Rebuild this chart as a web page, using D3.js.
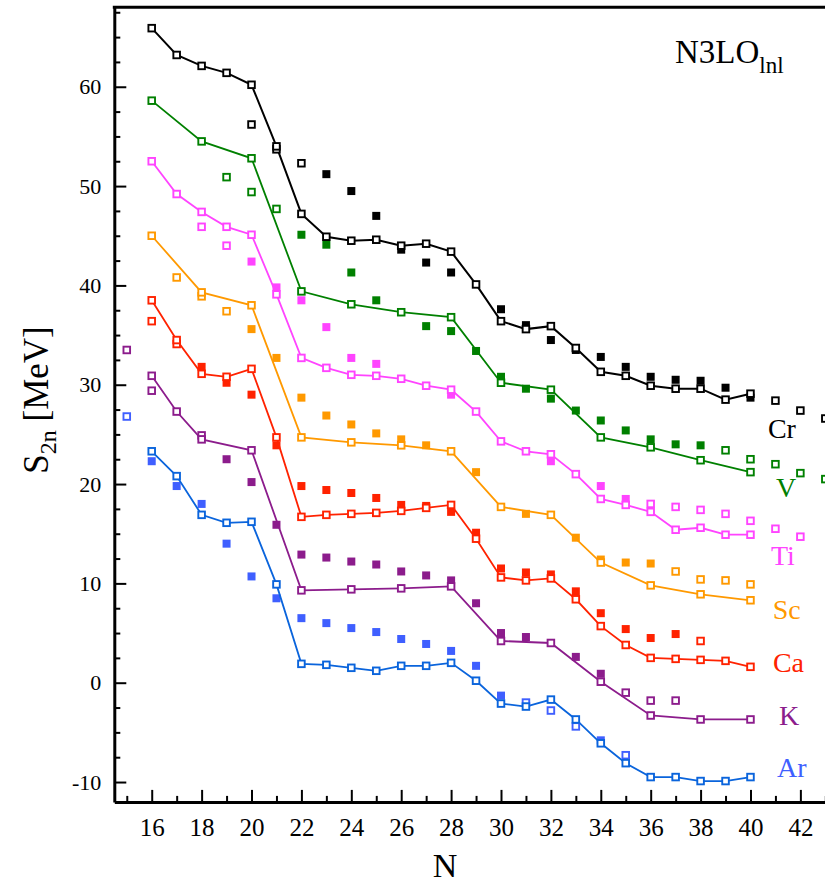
<!DOCTYPE html>
<html>
<head>
<meta charset="utf-8">
<script src="https://cdn.jsdelivr.net/npm/d3@7"></script>
<style>
  body { margin: 0; background: #fff; }
  svg { display: block; }
  text { font-family: "Liberation Serif", "Times New Roman", serif; }
</style>
</head>
<body>
<svg id="chart" width="825" height="884"></svg>
<script>
// S2n values [N, MeV]
// "line" = calculation joined by a line, "other" = extra open squares, "exp" = filled squares
const crLine = [[16,65.9],[17,63.2],[18,62.1],[19,61.4],[20,60.2],[21,54.0],[22,47.2],[23,44.9],[24,44.5],[25,44.6],[26,44.0],[27,44.2],[28,43.4],[29,40.1],[30,36.4],[31,35.6],[32,35.9],[33,33.7],[34,31.3],[35,30.9],[36,29.9],[37,29.6],[38,29.6],[39,28.5],[40,29.1]]
const crOther = [[20,56.2],[21,53.7],[22,52.3],[41,28.4],[42,27.4],[43,26.6]]
const crExp = [[23,51.2],[24,49.5],[25,47.0],[26,43.6],[27,42.3],[28,41.3],[30,37.6],[31,36.0],[32,34.5],[33,33.5],[34,32.8],[35,31.8],[36,30.8],[37,30.5],[38,30.4],[39,29.7],[40,28.7]]

const vLine = [[16,58.6],[18,54.5],[20,52.8],[22,39.4],[24,38.1],[26,37.3],[28,36.8],[30,30.2],[32,29.5],[34,24.7],[36,23.7],[38,22.4],[40,21.2]]
const vOther = [[19,50.9],[20,49.4],[21,47.7],[39,23.4],[40,22.5],[41,22.0],[42,21.1],[43,20.5]]
const vExp = [[22,45.1],[23,44.1],[24,41.3],[25,38.5],[27,35.9],[28,35.4],[29,33.4],[30,30.8],[31,29.6],[32,28.6],[33,27.4],[34,26.4],[35,25.4],[36,24.5],[37,24.0],[38,23.9]]

const tiLine = [[16,52.5],[17,49.2],[18,47.4],[19,45.9],[20,45.1],[21,39.1],[22,32.7],[23,31.7],[24,31.0],[25,30.9],[26,30.6],[27,29.9],[28,29.5],[29,27.3],[30,24.3],[31,23.3],[32,23.0],[33,21.0],[34,18.5],[35,17.9],[36,17.2],[37,15.4],[38,15.6],[39,14.9],[40,14.9]]
const tiOther = [[18,45.9],[19,44.0],[36,18.0],[37,17.7],[38,17.4],[39,17.0],[40,16.3],[41,15.5],[42,14.7]]
const tiExp = [[20,42.4],[21,39.8],[22,38.5],[23,35.8],[24,32.7],[25,32.1],[28,29.0],[32,22.3],[34,19.8],[35,18.5]]

const scLine = [[16,45.0],[18,39.3],[20,38.0],[22,24.7],[24,24.2],[26,23.9],[28,23.3],[30,17.7],[32,16.9],[34,12.1],[36,9.8],[38,8.9],[40,8.3]]
const scOther = [[17,40.8],[18,38.9],[19,37.4],[37,11.2],[38,10.4],[39,10.3],[40,9.9]]
const scExp = [[20,35.6],[21,32.7],[22,28.7],[23,26.9],[24,26.0],[25,25.1],[26,24.5],[27,23.9],[29,21.2],[31,17.0],[33,14.6],[34,12.4],[35,12.1],[36,12.0]]

const caLine = [[16,38.5],[17,34.5],[18,31.1],[19,30.8],[20,31.6],[21,24.7],[22,16.7],[23,16.9],[24,17.0],[25,17.1],[26,17.3],[27,17.6],[28,17.9],[29,14.5],[30,10.6],[31,10.3],[32,10.5],[33,8.4],[34,5.7],[35,3.8],[36,2.5],[37,2.4],[38,2.3],[39,2.2],[40,1.6]]
const caOther = [[16,36.4],[17,34.1],[38,4.2]]
const caExp = [[18,31.8],[19,30.2],[20,29.0],[21,23.9],[22,19.8],[23,19.4],[24,19.1],[25,18.6],[26,17.9],[27,17.8],[28,17.2],[29,15.1],[30,11.5],[31,11.1],[32,10.9],[33,9.2],[34,7.0],[35,5.4],[36,4.5],[37,4.9]]

const kLine = [[16,30.9],[17,27.3],[18,24.5],[20,23.4],[22,9.3],[24,9.4],[26,9.5],[28,9.7],[30,4.2],[32,4.0],[34,0.1],[36,-3.3],[38,-3.7],[40,-3.7]]
const kOther = [[15,33.5],[16,29.4],[18,24.9],[35,-1.0],[36,-1.8],[37,-1.8]]
const kExp = [[19,22.5],[20,20.2],[21,15.9],[22,12.9],[23,12.6],[24,12.2],[25,11.9],[26,11.2],[27,10.8],[28,10.3],[29,8.0],[30,5.0],[31,4.6],[33,2.6],[34,0.9]]

const arLine = [[16,23.3],[17,20.8],[18,16.9],[19,16.1],[20,16.2],[21,9.9],[22,1.9],[23,1.8],[24,1.5],[25,1.2],[26,1.7],[27,1.7],[28,2.0],[29,0.2],[30,-2.1],[31,-2.4],[32,-1.7],[33,-3.7],[34,-6.1],[35,-8.1],[36,-9.5],[37,-9.5],[38,-9.9],[39,-9.9],[40,-9.5]]
const arOther = [[15,26.8],[31,-2.0],[32,-2.8],[33,-4.4],[35,-7.3]]
const arExp = [[16,22.3],[17,19.8],[18,18.0],[19,14.0],[20,10.7],[21,8.5],[22,6.5],[23,6.0],[24,5.5],[25,5.1],[26,4.4],[27,3.9],[28,3.2],[29,1.7],[30,-1.3],[34,-5.8]]

const xTicks = [16, 18, 20, 22, 24, 26, 28, 30, 32, 34, 36, 38, 40, 42]
const yTicks = [-10, 0, 10, 20, 30, 40, 50, 60]

const series = [
  { name: 'Cr', line: crLine, other: crOther, exp: crExp },
  { name: 'V', line: vLine, other: vOther, exp: vExp },
  { name: 'Ti', line: tiLine, other: tiOther, exp: tiExp },
  { name: 'Sc', line: scLine, other: scOther, exp: scExp },
  { name: 'Ca', line: caLine, other: caOther, exp: caExp },
  { name: 'K', line: kLine, other: kOther, exp: kExp },
  { name: 'Ar', line: arLine, other: arOther, exp: arExp }
]

// colours: line colour and marker colour (Ar uses two blues)
const styles = {
  Cr: { line: '#000000', mark: '#000000' },
  V: { line: '#008000', mark: '#008000' },
  Ti: { line: '#ff44ff', mark: '#ff44ff' },
  Sc: { line: '#ff9900', mark: '#ff9900' },
  Ca: { line: '#ff2200', mark: '#ff2200' },
  K: { line: '#8c1c8c', mark: '#8c1c8c' },
  Ar: { line: '#0a64dc', mark: '#3f5fff' }
}

// where the element names sit, in data units (N, MeV)
const labelPos = {
  Cr: [40.7, 24.6], V: [41.02, 18.7], Ti: [40.82, 11.85], Sc: [40.89, 6.4],
  Ca: [40.9, 1.1], K: [41.14, -4.25], Ar: [41.06, -9.45]
}

const svg = d3.select('#chart')
const x = d3.scaleLinear().domain([14.5, 43.5]).range([114.3, 837.8])
const y = d3.scaleLinear().domain([-12, 68]).range([801.9, 7.3])

const plot = svg.append('g')

// filled squares first, then lines, then open squares on top
const fillSize = 8
series.forEach(s => {
  plot.append('g')
    .selectAll('rect')
    .data(s.exp)
    .enter()
    .append('rect')
    .attr('x', d => x(d[0]) - fillSize / 2)
    .attr('y', d => y(d[1]) - fillSize / 2)
    .attr('width', fillSize)
    .attr('height', fillSize)
    .attr('fill', styles[s.name].mark)
})

const line = d3.line().x(d => x(d[0])).y(d => y(d[1]))
series.forEach(s => {
  plot.append('path')
    .datum(s.line)
    .attr('d', line)
    .attr('fill', 'none')
    .attr('stroke', styles[s.name].line)
    .attr('stroke-width', s.name === 'Cr' ? 2 : 1.8)
})

const openSize = 6.6
function openSquares(data, color) {
  plot.append('g')
    .selectAll('rect')
    .data(data)
    .enter()
    .append('rect')
    .attr('x', d => x(d[0]) - openSize / 2)
    .attr('y', d => y(d[1]) - openSize / 2)
    .attr('width', openSize)
    .attr('height', openSize)
    .attr('fill', '#fff')
    .attr('stroke', color)
    .attr('stroke-width', 1.9)
}
series.forEach(s => openSquares(s.other, styles[s.name].mark))
series.forEach(s => openSquares(s.line, styles[s.name].line))

// element names
series.forEach(s => {
  svg.append('text')
    .attr('x', x(labelPos[s.name][0]))
    .attr('y', y(labelPos[s.name][1]))
    .attr('font-size', 28)
    .attr('fill', styles[s.name].mark)
    .text(s.name)
})

// axes: ticks point inward
const yAxis = svg.append('g')
  .attr('transform', `translate(${x(14.5)},0)`)
  .call(d3.axisLeft(y).tickValues(yTicks).tickSize(-12).tickSizeOuter(0).tickPadding(13).tickFormat(d => String(d)))
yAxis.append('g')
  .call(d3.axisLeft(y).tickValues(d3.range(-10, 68, 2.5).filter(v => v % 10 !== 0)).tickSize(-6).tickSizeOuter(0).tickFormat(''))
  .select('.domain').remove()
yAxis.selectAll('text').attr('font-size', 22).attr('fill', '#000').attr('font-family', '"Liberation Serif", serif')

const xAxis = svg.append('g')
  .attr('transform', `translate(0,${y(-12)})`)
  .call(d3.axisBottom(x).tickValues(xTicks).tickSize(-12).tickSizeOuter(0).tickPadding(16))
xAxis.append('g')
  .call(d3.axisBottom(x).tickValues(d3.range(15, 44, 2)).tickSize(-6).tickSizeOuter(0).tickFormat(''))
  .select('.domain').remove()
xAxis.selectAll('text').attr('font-size', 25).attr('fill', '#000').attr('font-family', '"Liberation Serif", serif')

svg.selectAll('.domain').attr('stroke', '#000').attr('stroke-width', 3)
svg.selectAll('.tick line').attr('stroke', '#000').attr('stroke-width', 2)

// top frame line
svg.append('line')
  .attr('x1', x(14.5) - 1.5).attr('x2', 825)
  .attr('y1', y(68)).attr('y2', y(68))
  .attr('stroke', '#000').attr('stroke-width', 3)

// axis titles
const yTitle = svg.append('text')
  .attr('transform', 'translate(48,400) rotate(-90)')
  .attr('text-anchor', 'middle')
  .attr('font-size', 35)
  .attr('fill', '#000')
yTitle.append('tspan').text('S')
yTitle.append('tspan').attr('font-size', 24).attr('dy', 8).text('2n')
yTitle.append('tspan').attr('dy', -8).text(' [MeV]')

svg.append('text')
  .attr('x', 445).attr('y', 877)
  .attr('text-anchor', 'middle')
  .attr('font-size', 34)
  .attr('fill', '#000')
  .text('N')

const title = svg.append('text')
  .attr('x', 675).attr('y', 62.7)
  .attr('font-size', 33)
  .attr('fill', '#000')
title.append('tspan').text('N3LO')
title.append('tspan').attr('font-size', 23).attr('dy', 10).text('lnl')
</script>
</body>
</html>
